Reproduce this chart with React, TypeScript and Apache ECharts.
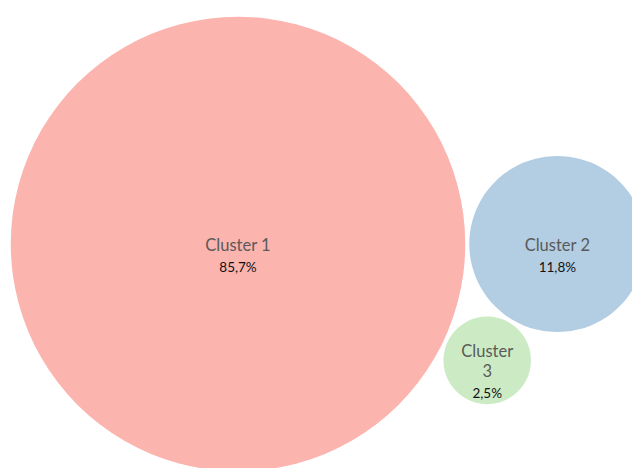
import React, { useEffect, useRef } from "react";
import * as echarts from "echarts";

const clusterNames = ["Cluster 1", "Cluster 2", "Cluster 3"];
const clusterShares = [85.7, 11.8, 2.5];
const clusterColors = ["#FBB4AE", "#B3CDE3", "#CCEBC5"];

const W = 632;
const H = 468;

// radius model: r = scale * sqrt(value) + pad
const RADIUS_SCALE = 23.9;
const RADIUS_PAD = 6;
const GAP = 4;
const ANCHOR = [238, 244];

function radiusOf(v: number) {
  return RADIUS_SCALE * Math.sqrt(v) + RADIUS_PAD;
}

// simple front-chain packing for three circles: 1st at anchor, 2nd tangent to the right,
// 3rd tangent to both below
function pack(values: number[]) {
  const r = values.map(radiusOf);
  const pos: number[][] = [];
  pos[0] = [0, 0];
  const d12 = r[0] + r[1] + GAP;
  pos[1] = [d12, 0];
  const d13 = r[0] + r[2] + GAP;
  const d23 = r[1] + r[2] + GAP;
  const x = (d13 * d13 - d23 * d23 + d12 * d12) / (2 * d12);
  const y = Math.sqrt(Math.max(0, d13 * d13 - x * x));
  pos[2] = [x, y];
  return pos.map((p, i) => ({ x: p[0] + ANCHOR[0], y: p[1] + ANCHOR[1], r: r[i] }));
}

function fmtPct(v: number) {
  return v.toFixed(1).replace(".", ",") + "%";
}

export default function App() {
  const ref = useRef<HTMLDivElement>(null);
  useEffect(() => {
    document.body.style.margin = "0";
    if (!ref.current) return;
    const chart = echarts.init(ref.current, null, { renderer: "svg" });
    const layout = pack(clusterShares);
    const data = clusterNames.map((name, i) => ({
      name,
      value: [layout[i].x, layout[i].y, clusterShares[i]],
      symbolSize: layout[i].r * 2,
      itemStyle: { color: clusterColors[i] },
      label: {
        formatter: () => {
          const nm = layout[i].r < 60 ? name.replace(" ", "\n") : name;
          const lines = nm.split("\n").map((l) => `{a|${l}}`).join("\n");
          return `${lines}\n{b|${fmtPct(clusterShares[i])}}`;
        },
      },
    }));
    chart.setOption({
      animation: false,
      grid: { left: 0, right: 0, top: 0, bottom: 0 },
      xAxis: { type: "value", min: 0, max: W, show: false },
      yAxis: { type: "value", min: 0, max: H, inverse: true, show: false },
      series: [
        {
          type: "scatter",
          data,
          itemStyle: { opacity: 1 },
          label: {
            show: true,
            position: "inside",
            offset: [0, 13],
            align: "center",
            rich: {
              a: {
                fontFamily: "Lato",
                fontSize: 16.5,
                lineHeight: 20,
                color: "#5a5a5a",
                align: "center",
              },
              b: {
                fontFamily: "Lato",
                fontSize: 13.5,
                lineHeight: 24,
                color: "#111111",
                align: "center",
              },
            },
          },
          emphasis: { disabled: true },
        },
      ],
    });
    return () => chart.dispose();
  }, []);
  return <div ref={ref} style={{ width: W, height: H }} />;
}
